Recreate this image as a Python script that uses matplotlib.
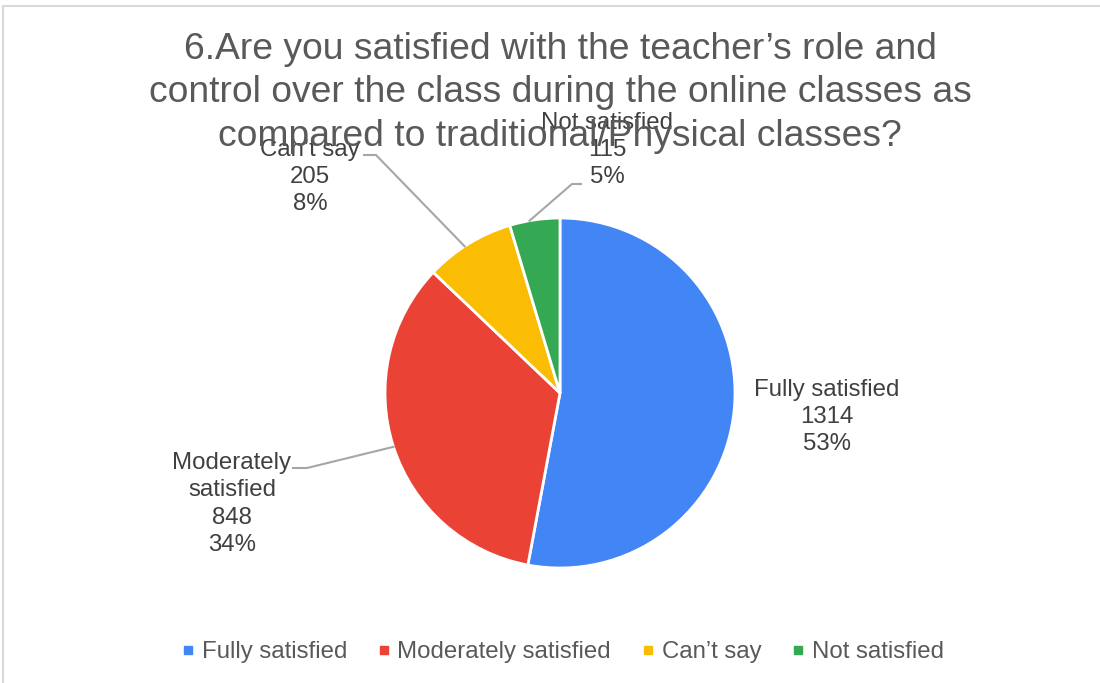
import numpy as np
import matplotlib.pyplot as plt
from matplotlib.lines import Line2D
from matplotlib.patches import Rectangle

plt.rcParams['font.family'] = ['Liberation Sans', 'DejaVu Sans']

# data
categories = ["Fully satisfied", "Moderately satisfied", "Can\u2019t say", "Not satisfied"]
counts = [1314, 848, 205, 115]
percents = ["53%", "34%", "8%", "5%"]
colors = ["#4285F4", "#EA4335", "#FBBC04", "#34A853"]
label_text = ["Fully satisfied", "Moderately\nsatisfied", "Can\u2019t say", "Not satisfied"]
title = ("6.Are you satisfied with the teacher\u2019s role and\n"
         "control over the class during the online classes as\n"
         "compared to traditional/Physical classes?")

W, H = 1100, 683
fig = plt.figure(figsize=(W / 100, H / 100), dpi=100)
ax = fig.add_axes([0, 0, 1, 1])

# light border of the chart area
ax.add_patch(Rectangle((3, -10), W + 20, H - 6 + 10, fill=False, ec="#D9D9D9", lw=1.5))

cx, cy, r = 560, 290, 175
wedges, _ = ax.pie(counts, colors=colors, startangle=90, counterclock=False,
                   center=(cx, cy), radius=r, frame=True,
                   wedgeprops=dict(edgecolor="white", linewidth=2))
ax.set_xlim(0, W)
ax.set_ylim(0, H)
ax.set_aspect('equal')
ax.axis('off')

# label positions (text centre) and leader elbows, in pixels from top
lab_pos = [(827, 417), (232, 504), (310, 177), (607, 150)]
elbow = [None, [(293, 468), (307, 468)], [(364, 155), (376, 155)], [(581, 184), (572, 184)]]
anchor_frac = [None, 0.5, 0.55, 0.6]

for i, w in enumerate(wedges):
    txt = f"{label_text[i]}\n{counts[i]}\n{percents[i]}"
    x, y = lab_pos[i]
    ax.text(x, H - y, txt, ha="center", va="center", fontsize=17.3, color="#404040",
            linespacing=1.3)
    if elbow[i] is not None:
        t1, t2 = w.theta1, w.theta2
        a = np.deg2rad(t1 + (t2 - t1) * anchor_frac[i])
        px, py = cx + r * np.cos(a), cy + r * np.sin(a)
        (x0, y0), (x1, y1) = elbow[i]
        ax.plot([x0, x1, px], [H - y0, H - y1, py], color="#A6A6A6", lw=1.5,
                solid_joinstyle="miter")

ax.text(560, H - 93, title, ha="center", va="center", fontsize=26.8,
        color="#595959", linespacing=1.31)

handles = [Line2D([], [], marker="s", ls="none", markersize=6, color=c) for c in colors]
leg = ax.legend(handles, categories, loc="center", bbox_to_anchor=(563 / W, 1 - 652 / H),
                ncol=4, frameon=False, fontsize=17.3, handlelength=0.5, handletextpad=0.3,
                columnspacing=1.3, labelcolor="#595959")

fig.savefig("out.png", dpi=100)
